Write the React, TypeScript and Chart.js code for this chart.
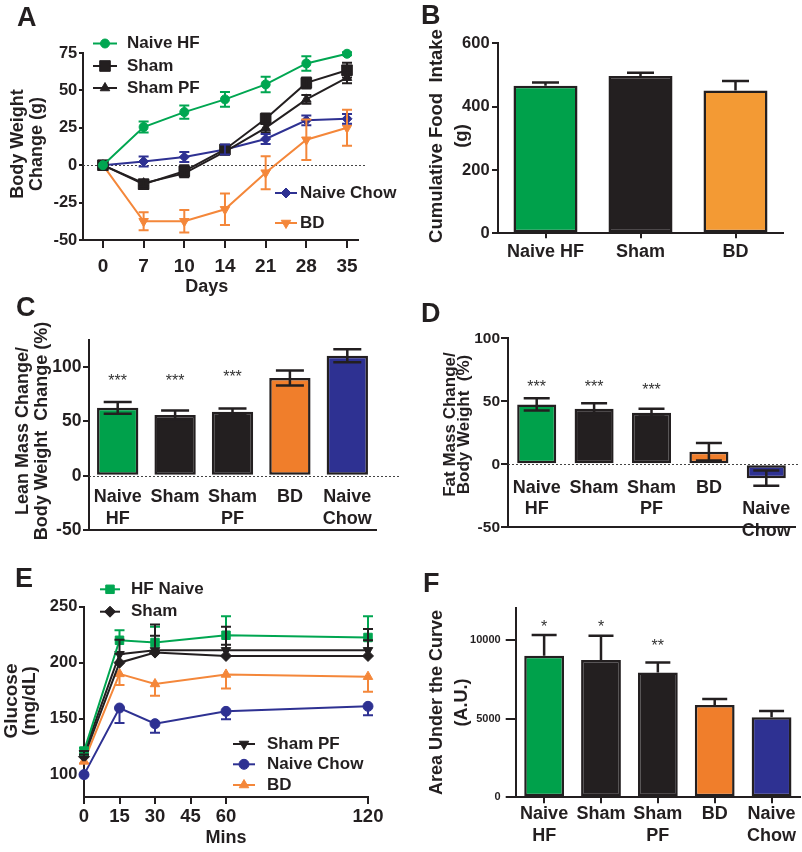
import React, { useEffect, useRef } from 'react';
import { Chart, registerables } from 'chart.js';

Chart.register(...registerables);

const FONT = '"Liberation Sans", Arial, Helvetica, sans-serif';
Chart.defaults.font.family = FONT;
Chart.defaults.font.weight = 'bold' as any;
Chart.defaults.color = '#231f20';

const INK = '#231f20';
const GREEN = '#00a651';
const GREEN_BAR = '#00a14b';
const BLUE = '#2e3192';
const ORANGE_LINE = '#f4873a';
const ORANGE_BAR = '#f07e2b';
const ORANGE_BAR_B = '#f39a34';

// ---------- Panel A: body weight change ----------
const daysA = ['0', '7', '10', '14', '21', '28', '35'];
const yTicksA = [-50, -25, 0, 25, 50, 75];
const naiveHFA = [0, 25.5, 35.5, 44, 54, 68, 74.5];
const naiveHFAErr = [0, 3.7, 4.4, 5, 5.2, 4.9, 1];
const shamA = [0, -12.7, -4, 10.5, 31, 55, 63.5];
const shamAErr = [0, 3, 4, 3, 3.5, 3.7, 4.9];
const shamPFA = [0, -12, -5.5, 9, 25, 44, 58.5];
const shamPFAErr = [0, 2, 2, 2, 3, 3, 3.7];
const naiveChowA = [0, 2.5, 5.5, 10.5, 17.5, 30, 31];
const naiveChowAErr = [0, 3.3, 3.3, 3.3, 3.3, 3.3, 3.3];
const bdA = [0, -37.5, -37.5, -29.5, -5, 17, 25];
const bdAErr = [0, 6, 7.5, 10.5, 11, 13.5, 12];

// ---------- Panel B: cumulative food intake ----------
const groupsB = ['Naive HF', 'Sham', 'BD'];
const yTicksB = [0, 200, 400, 600];
const foodB = [466, 497, 451];
const foodBErr = [10, 10, 30];
const colorsB = [GREEN_BAR, INK, ORANGE_BAR_B];

// ---------- Panel C: lean mass ----------
const groupsC = [['Naive', 'HF'], 'Sham', ['Sham', 'PF'], 'BD', ['Naive', 'Chow']];
const yTicksC = [-50, 0, 50, 100];
const leanC = [62.5, 56, 59, 90, 110.5];
const leanCErr = [5.5, 4, 3, 7, 6];
const starsC = ['***', '***', '***', '', ''];
const starLevelC = [91, 91, 95, 0, 0];
const colorsFive = [GREEN_BAR, INK, INK, ORANGE_BAR, BLUE];

// ---------- Panel D: fat mass ----------
const groupsD = [['Naive', 'HF'], 'Sham', ['Sham', 'PF'], 'BD', ['', 'Naive', 'Chow']];
const yTicksD = [-50, 0, 50, 100];
const fatD = [47.5, 44, 41, 10, -11];
const fatDErr = [4.9, 4.5, 3, 7, 6];
const starsD = ['***', '***', '***', '', ''];
const starLevelD = [64.5, 64.5, 62.5, 0, 0];

// ---------- Panel E: glucose ----------
const minsE = [0, 15, 30, 60, 120];
const xTicksE = [0, 15, 30, 45, 60, 120];
const yTicksE = [100, 150, 200, 250];
const hfNaiveE = [121, 220, 218, 224.5, 222.5];
const hfNaiveEErr = [3, 9, 14, 17, 19];
const shamE = [116, 200, 209, 206, 206];
const shamEErr = [2, 8, 15, 10, 14];
const shamPFE = [119, 207.5, 211, 211, 211];
const shamPFEErr = [2, 13, 23, 21, 19];
const naiveChowE = [100, 159.5, 145.5, 156.5, 161];
const naiveChowEErr = [1, 13.5, 8, 7, 8];
const bdE = [112, 190, 181, 189.5, 187.5];
const bdEErr = [2, 10, 10.5, 12.5, 13.5];

// ---------- Panel F: AUC ----------
const groupsF = [['Naive', 'HF'], 'Sham', ['Sham', 'PF'], 'BD', ['Naive', 'Chow']];
const yTicksF = [0, 5000, 10000];
const aucF = [8980, 8720, 7920, 5860, 5080];
const aucFErr = [1330, 1530, 640, 380, 400];
const starsF = ['*', '*', '**', '', ''];
const starLevelF = [11050, 11050, 9880, 0, 0];

// ---------- helpers ----------
function drawMarker(ctx: CanvasRenderingContext2D, style: string, r: number, rotDeg: number, x: number, y: number) {
  const rad = (rotDeg * Math.PI) / 180;
  ctx.beginPath();
  if (style === 'circle') {
    ctx.arc(x, y, r, 0, Math.PI * 2);
  } else if (style === 'rect') {
    const s = r * Math.SQRT1_2;
    ctx.rect(x - s, y - s, 2 * s, 2 * s);
  } else if (style === 'rectRot') {
    ctx.moveTo(x - r, y);
    ctx.lineTo(x, y - r);
    ctx.lineTo(x + r, y);
    ctx.lineTo(x, y + r);
    ctx.closePath();
  } else {
    let a = rad;
    ctx.moveTo(x + Math.sin(a) * r, y - Math.cos(a) * r);
    a += (2 * Math.PI) / 3;
    ctx.lineTo(x + Math.sin(a) * r, y - Math.cos(a) * r);
    a += (2 * Math.PI) / 3;
    ctx.lineTo(x + Math.sin(a) * r, y - Math.cos(a) * r);
    ctx.closePath();
  }
  ctx.fill();
  ctx.stroke();
}

type Cfg = {
  zeroExtend?: number;
  legend?: { ds: number; x: number; y: number; len: number; tx: number }[];
  legendSize?: number;
  yTitle?: { lines: { text: string; x: number }[]; y: number; size: number };
  xTitle?: { text: string; x: number; y: number; size: number };
  starSize?: number;
};

function makePlugin(cfg: Cfg) {
  return {
    id: 'figureExtras',
    beforeDatasetsDraw(chart: any) {
      if (cfg.zeroExtend === undefined) return;
      const { ctx, chartArea: ca } = chart;
      const y0 = Math.round(chart.scales.y.getPixelForValue(0)) + 0.5;
      ctx.save();
      ctx.strokeStyle = '#444';
      ctx.lineWidth = 1;
      ctx.setLineDash([2, 2]);
      ctx.beginPath();
      ctx.moveTo(ca.left, y0);
      ctx.lineTo(ca.right + cfg.zeroExtend, y0);
      ctx.stroke();
      ctx.restore();
    },
    afterDatasetsDraw(chart: any) {
      const { ctx } = chart;
      const ys = chart.scales.y;
      chart.data.datasets.forEach((ds: any, di: number) => {
        const meta = chart.getDatasetMeta(di);
        if (ds.errors) {
          ctx.save();
          ctx.strokeStyle = ds.errorColor || ds.borderColor;
          ctx.lineWidth = ds.errorWidth || 2;
          const cap = ds.errorCap || 5;
          const dir = ds.errorDir || 'both';
          meta.data.forEach((el: any, i: number) => {
            const raw = ds.data[i];
            const v = typeof raw === 'number' ? raw : raw.y;
            const e = ds.errors[i];
            if (!e) return;
            const x = el.x;
            const yc = ys.getPixelForValue(v);
            const yt = ys.getPixelForValue(v + e);
            const yb = ys.getPixelForValue(v - e);
            ctx.beginPath();
            ctx.moveTo(x, dir === 'down' ? yc : yt);
            ctx.lineTo(x, dir === 'up' ? yc : yb);
            if (dir !== 'down') {
              ctx.moveTo(x - cap, yt);
              ctx.lineTo(x + cap, yt);
            }
            if (dir !== 'up') {
              ctx.moveTo(x - cap, yb);
              ctx.lineTo(x + cap, yb);
            }
            ctx.stroke();
          });
          ctx.restore();
        }
        if (ds.stars) {
          const size = cfg.starSize || 16;
          ctx.save();
          ctx.font = `normal ${size}px ${FONT}`;
          ctx.fillStyle = '#333';
          ctx.textAlign = 'center';
          ctx.textBaseline = 'alphabetic';
          meta.data.forEach((el: any, i: number) => {
            const s = ds.stars[i];
            if (!s) return;
            ctx.fillText(s, el.x, ys.getPixelForValue(ds.starLevel[i]) + size * 0.57);
          });
          ctx.restore();
        }
      });
      if (cfg.legend) {
        for (const it of cfg.legend) {
          const ds = chart.data.datasets[it.ds];
          ctx.save();
          ctx.strokeStyle = ds.borderColor;
          ctx.lineWidth = ds.borderWidth || 2;
          ctx.beginPath();
          ctx.moveTo(it.x, it.y);
          ctx.lineTo(it.x + it.len, it.y);
          ctx.stroke();
          ctx.fillStyle = ds.pointBackgroundColor;
          ctx.strokeStyle = ds.pointBorderColor;
          ctx.lineWidth = 1;
          drawMarker(ctx, ds.pointStyle, ds.pointRadius, ds.pointRotation || 0, it.x + it.len / 2, it.y);
          ctx.fillStyle = INK;
          ctx.font = `bold ${cfg.legendSize || 17}px ${FONT}`;
          ctx.textAlign = 'left';
          ctx.textBaseline = 'middle';
          ctx.fillText(ds.label, it.tx, it.y);
          ctx.restore();
        }
      }
      if (cfg.yTitle) {
        const t = cfg.yTitle;
        ctx.save();
        ctx.fillStyle = INK;
        ctx.font = `bold ${t.size}px ${FONT}`;
        ctx.textAlign = 'center';
        ctx.textBaseline = 'alphabetic';
        for (const ln of t.lines) {
          ctx.save();
          ctx.translate(ln.x, t.y);
          ctx.rotate(-Math.PI / 2);
          ctx.fillText(ln.text, 0, 0);
          ctx.restore();
        }
        ctx.restore();
      }
      if (cfg.xTitle) {
        const t = cfg.xTitle;
        ctx.save();
        ctx.fillStyle = INK;
        ctx.font = `bold ${t.size}px ${FONT}`;
        ctx.textAlign = 'center';
        ctx.textBaseline = 'middle';
        ctx.fillText(t.text, t.x, t.y);
        ctx.restore();
      }
    },
  };
}

function yAxis(o: { min: number; max: number; ticks: number[]; width: number; size: number; tl: number; pad: number }) {
  return {
    type: 'linear',
    min: o.min,
    max: o.max,
    afterBuildTicks: (s: any) => {
      s.ticks = o.ticks.map((v) => ({ value: v }));
    },
    afterFit: (s: any) => {
      s.width = o.width;
    },
    grid: { drawOnChartArea: false, drawTicks: true, tickLength: o.tl, color: INK, lineWidth: 2 },
    border: { display: true, color: INK, width: 2 },
    ticks: { font: { size: o.size, weight: 'bold' }, padding: o.pad, color: INK, callback: (v: any) => String(v) },
  };
}

function baseOptions(padding: any) {
  return {
    responsive: false,
    animation: false,
    events: [],
    layout: { padding },
    plugins: { legend: { display: false }, tooltip: { enabled: false }, title: { display: false } },
  };
}

function lineSet(label: string, xs: number[], ys: number[], err: number[], color: string, style: string, r: number, rot: number, dir: string) {
  return {
    type: 'line',
    label,
    data: ys.map((y, i) => ({ x: xs[i], y })),
    borderColor: color,
    backgroundColor: color,
    pointBackgroundColor: color,
    pointBorderColor: color,
    pointStyle: style,
    pointRadius: r,
    pointRotation: rot,
    pointBorderWidth: 1,
    borderWidth: 2,
    tension: 0,
    clip: false,
    errors: err,
    errorDir: dir,
    errorCap: 5,
    errorWidth: 2,
  };
}

function configA() {
  const idx = daysA.map((_, i) => i);
  return {
    type: 'line',
    data: {
      datasets: [
        lineSet('Naive HF', idx, naiveHFA, naiveHFAErr, GREEN, 'circle', 4.5, 0, 'both'),
        lineSet('Sham', idx, shamA, shamAErr, INK, 'rect', 7.5, 0, 'both'),
        lineSet('Sham PF', idx, shamPFA, shamPFAErr, INK, 'triangle', 5.5, 0, 'both'),
        lineSet('Naive Chow', idx, naiveChowA, naiveChowAErr, BLUE, 'rectRot', 5, 0, 'both'),
        lineSet('BD', idx, bdA, bdAErr, ORANGE_LINE, 'triangle', 5.5, 180, 'both'),
      ],
    },
    options: {
      ...baseOptions({ left: 0, top: 53, right: 52, bottom: 0 }),
      scales: {
        x: {
          type: 'linear',
          min: -0.49,
          max: 6.27,
          afterBuildTicks: (s: any) => {
            s.ticks = daysA.map((_, i) => ({ value: i }));
          },
          afterFit: (s: any) => {
            s.height = 60;
          },
          grid: { drawOnChartArea: false, tickLength: 8, color: INK, lineWidth: 2 },
          border: { color: INK, width: 2 },
          ticks: {
            font: { size: 19, weight: 'bold' },
            padding: 7.6,
            color: INK,
            maxRotation: 0,
            autoSkip: false,
            callback: (v: any) => (daysA[v] !== undefined ? daysA[v] : ''),
          },
        },
        y: yAxis({ min: -50, max: 75, ticks: yTicksA, width: 83, size: 16.5, tl: 4, pad: 1.7 }),
      },
    },
    plugins: [
      makePlugin({
        zeroExtend: 9,
        legendSize: 17,
        legend: [
          { ds: 0, x: 93, y: 43.5, len: 24, tx: 127 },
          { ds: 1, x: 93, y: 66, len: 24, tx: 127 },
          { ds: 2, x: 93, y: 88, len: 24, tx: 127 },
          { ds: 3, x: 275, y: 193, len: 22, tx: 300 },
          { ds: 4, x: 275, y: 223, len: 22, tx: 300 },
        ],
        yTitle: { lines: [{ text: 'Body Weight', x: 23.3 }, { text: 'Change (g)', x: 41.7 }], y: 144, size: 18 },
        xTitle: { text: 'Days', x: 206.7, y: 287, size: 18 },
      }),
    ],
  };
}

function barSet(values: number[], colors: string[], err: number[], dir: string, pct: number, cap: number, extra: any = {}) {
  return {
    type: 'bar',
    label: 'values',
    xAxisID: 'x',
    data: values,
    backgroundColor: colors,
    borderColor: INK,
    borderWidth: 2.5,
    borderSkipped: false,
    barPercentage: pct,
    categoryPercentage: 1,
    errors: err,
    errorDir: dir,
    errorCap: cap,
    errorWidth: 2.5,
    errorColor: INK,
    ...extra,
  };
}

function bottomCategoryAxis(height: number, tl: number, pad: number) {
  return {
    type: 'category',
    position: 'bottom',
    afterFit: (s: any) => {
      s.height = height;
    },
    grid: { drawOnChartArea: false, offset: false, tickLength: tl, color: INK, lineWidth: 2 },
    border: { color: INK, width: 2 },
    ticks: { font: { size: 18, weight: 'bold' }, padding: pad, color: INK, maxRotation: 0, autoSkip: false },
  };
}

function zeroCategoryAxis(pad: number) {
  return {
    type: 'category',
    position: { y: 0 },
    grid: { display: false },
    border: { display: false },
    ticks: { font: { size: 18, weight: 'bold' }, padding: pad, color: INK, maxRotation: 0, autoSkip: false },
  };
}

function baselineAxis() {
  return {
    type: 'category',
    position: 'bottom',
    afterFit: (s: any) => {
      s.height = 0;
    },
    grid: { display: false },
    border: { display: true, color: INK, width: 2 },
    ticks: { display: false },
  };
}

function configB() {
  return {
    type: 'bar',
    data: { labels: groupsB, datasets: [barSet(foodB, colorsB, foodBErr, 'up', 0.674, 13.5)] },
    options: {
      ...baseOptions({ left: 0, top: 43.3, right: 19, bottom: 0 }),
      scales: {
        x: bottomCategoryAxis(66.7, 5, 2.6),
        y: yAxis({ min: 0, max: 600, ticks: yTicksB, width: 98, size: 16.5, tl: 6, pad: 2.4 }),
      },
    },
    plugins: [
      makePlugin({
        yTitle: { lines: [{ text: 'Cumulative Food  Intake', x: 41.7 }, { text: '(g)', x: 67 }], y: 136, size: 18.5 },
      }),
    ],
  };
}

function configC() {
  return {
    type: 'bar',
    data: {
      labels: groupsC,
      datasets: [barSet(leanC, colorsFive, leanCErr, 'both', 0.72, 14, { stars: starsC, starLevel: starLevelC })],
    },
    options: {
      ...baseOptions({ left: 0, top: 50, right: 24, bottom: 30 }),
      scales: {
        x: zeroCategoryAxis(2.5),
        xb: baselineAxis(),
        y: yAxis({ min: -50, max: 125, ticks: yTicksC, width: 89, size: 17.5, tl: 6, pad: 1.6 }),
      },
    },
    plugins: [
      makePlugin({
        zeroExtend: 24,
        starSize: 16,
        yTitle: {
          lines: [{ text: 'Lean Mass Change/', x: 28.3 }, { text: 'Body Weight  Change (%)', x: 46.7 }],
          y: 141,
          size: 18,
        },
      }),
    ],
  };
}

function configD() {
  return {
    type: 'bar',
    data: {
      labels: groupsD,
      datasets: [barSet(fatD, colorsFive, fatDErr, 'both', 0.68, 13, { stars: starsD, starLevel: starLevelD })],
    },
    options: {
      ...baseOptions({ left: 0, top: 48.3, right: 7, bottom: 32.7 }),
      scales: {
        x: zeroCategoryAxis(4.5),
        xb: baselineAxis(),
        y: yAxis({ min: -50, max: 100, ticks: yTicksD, width: 108, size: 15.5, tl: 7, pad: 1 }),
      },
    },
    plugins: [
      makePlugin({
        zeroExtend: 5,
        starSize: 16,
        yTitle: {
          lines: [{ text: 'Fat Mass Change/', x: 55 }, { text: 'Body Weight  (%)', x: 69.3 }],
          y: 134.5,
          size: 17,
        },
      }),
    ],
  };
}

function configE() {
  return {
    type: 'line',
    data: {
      datasets: [
        lineSet('HF Naive', minsE, hfNaiveE, hfNaiveEErr, GREEN, 'rect', 6, 0, 'up'),
        lineSet('Sham', minsE, shamE, shamEErr, INK, 'rectRot', 5.5, 0, 'up'),
        lineSet('Sham PF', minsE, shamPFE, shamPFEErr, INK, 'triangle', 5.5, 180, 'up'),
        lineSet('Naive Chow', minsE, naiveChowE, naiveChowEErr, BLUE, 'circle', 5, 0, 'down'),
        lineSet('BD', minsE, bdE, bdEErr, ORANGE_LINE, 'triangle', 5.5, 0, 'down'),
      ],
    },
    options: {
      ...baseOptions({ left: 0, top: 46.7, right: 32, bottom: 0 }),
      scales: {
        x: {
          type: 'linear',
          min: 0,
          max: 120,
          afterBuildTicks: (s: any) => {
            s.ticks = xTicksE.map((v) => ({ value: v }));
          },
          afterFit: (s: any) => {
            s.height = 55;
          },
          grid: { drawOnChartArea: false, tickLength: 7, color: INK, lineWidth: 2 },
          border: { color: INK, width: 2 },
          ticks: {
            font: { size: 18.5, weight: 'bold' },
            padding: 1.6,
            color: INK,
            maxRotation: 0,
            autoSkip: false,
            callback: (v: any) => String(v),
          },
        },
        y: yAxis({ min: 80, max: 250, ticks: yTicksE, width: 84, size: 16.5, tl: 5, pad: 1.6 }),
      },
    },
    plugins: [
      makePlugin({
        legendSize: 17,
        legend: [
          { ds: 0, x: 100, y: 29.3, len: 20, tx: 131 },
          { ds: 1, x: 100, y: 51.7, len: 20, tx: 131 },
          { ds: 2, x: 233, y: 184, len: 22, tx: 267 },
          { ds: 3, x: 233, y: 204.3, len: 22, tx: 267 },
          { ds: 4, x: 233, y: 225, len: 22, tx: 267 },
        ],
        yTitle: { lines: [{ text: 'Glucose', x: 16.7 }, { text: '(mg/dL)', x: 35 }], y: 141, size: 19 },
        xTitle: { text: 'Mins', x: 226, y: 278.3, size: 18 },
      }),
    ],
  };
}

function configF() {
  return {
    type: 'bar',
    data: {
      labels: groupsF,
      datasets: [barSet(aucF, colorsFive, aucFErr, 'up', 0.7, 12.5, { stars: starsF, starLevel: starLevelF })],
    },
    options: {
      ...baseOptions({ left: 0, top: 48.3, right: 2, bottom: 0 }),
      scales: {
        x: bottomCategoryAxis(54.7, 6, 0),
        y: yAxis({ min: 0, max: 12000, ticks: yTicksF, width: 115.7, size: 11, tl: 10, pad: 5 }),
      },
    },
    plugins: [
      makePlugin({
        starSize: 16,
        yTitle: {
          lines: [{ text: 'Area Under the Curve', x: 41.7 }, { text: '(A.U.)', x: 66.7 }],
          y: 142.5,
          size: 18,
        },
      }),
    ],
  };
}

function ChartCanvas({ left, top, width, height, make }: { left: number; top: number; width: number; height: number; make: () => any }) {
  const ref = useRef<HTMLCanvasElement | null>(null);
  useEffect(() => {
    const chart = new Chart(ref.current as HTMLCanvasElement, make() as any);
    return () => chart.destroy();
  }, [make]);
  return (
    <canvas
      ref={ref}
      width={width}
      height={height}
      style={{ position: 'absolute', left, top, width, height }}
    />
  );
}

const panelLetters = [
  { t: 'A', x: 17, y: 3.5 },
  { t: 'B', x: 421, y: 1.5 },
  { t: 'C', x: 16, y: 293.5 },
  { t: 'D', x: 421, y: 299.5 },
  { t: 'E', x: 15, y: 564.5 },
  { t: 'F', x: 423, y: 569.5 },
];

export default function App() {
  return (
    <div
      style={{
        position: 'absolute',
        left: 0,
        top: 0,
        width: 802,
        height: 852,
        background: '#ffffff',
        overflow: 'hidden',
        fontFamily: FONT,
      }}
    >
      <ChartCanvas left={0} top={0} width={410} height={300} make={configA} />
      <ChartCanvas left={400} top={0} width={402} height={300} make={configB} />
      <ChartCanvas left={0} top={290} width={400} height={270} make={configC} />
      <ChartCanvas left={400} top={290} width={402} height={270} make={configD} />
      <ChartCanvas left={0} top={560} width={400} height={292} make={configE} />
      <ChartCanvas left={400} top={560} width={402} height={292} make={configF} />
      {panelLetters.map((p) => (
        <div
          key={p.t}
          style={{
            position: 'absolute',
            left: p.x,
            top: p.y,
            fontSize: 27,
            lineHeight: '27px',
            fontWeight: 'bold',
            color: INK,
          }}
        >
          {p.t}
        </div>
      ))}
    </div>
  );
}
